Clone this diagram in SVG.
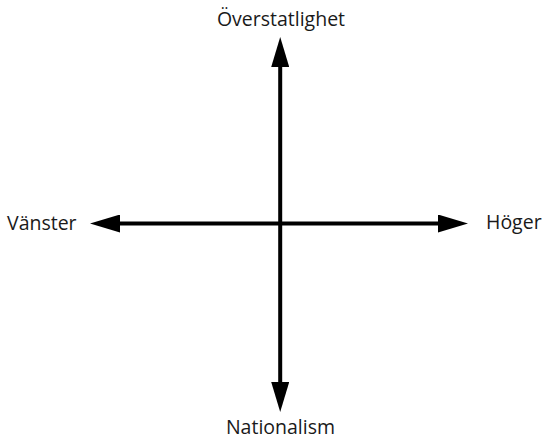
<svg xmlns="http://www.w3.org/2000/svg" width="543" height="442" viewBox="0 0 543 442">
<style>
  .lbl { font-family: "Open Sans", "Liberation Sans", sans-serif; font-size: 19.5px; fill: #1a1a1a; }
  .axis { stroke: #000; stroke-width: 4; fill: none; }
</style>
<defs>
  <marker id="ah" viewBox="0 0 30 18" refX="2" refY="9" markerWidth="30" markerHeight="18" markerUnits="userSpaceOnUse" orient="auto-start-reverse">
    <path d="M0,0 L30,9 L0,18 z" fill="#000"/>
  </marker>
</defs>
<rect width="543" height="442" fill="#fff"/>
<g id="connectors">
  <line class="axis" x1="118" y1="223.5" x2="440" y2="223.5" marker-start="url(#ah)" marker-end="url(#ah)"/>
  <line class="axis" x1="280.2" y1="65" x2="280.2" y2="384" marker-start="url(#ah)" marker-end="url(#ah)"/>
</g>
<g id="overstatlighet"><text class="lbl" x="281" y="26" text-anchor="middle">Överstatlighet</text></g>
<g id="nationalism"><text class="lbl" x="280.5" y="434" text-anchor="middle">Nationalism</text></g>
<g id="vanster"><text class="lbl" x="7" y="230">Vänster</text></g>
<g id="hoger"><text class="lbl" x="486" y="229">Höger</text></g>
</svg>
